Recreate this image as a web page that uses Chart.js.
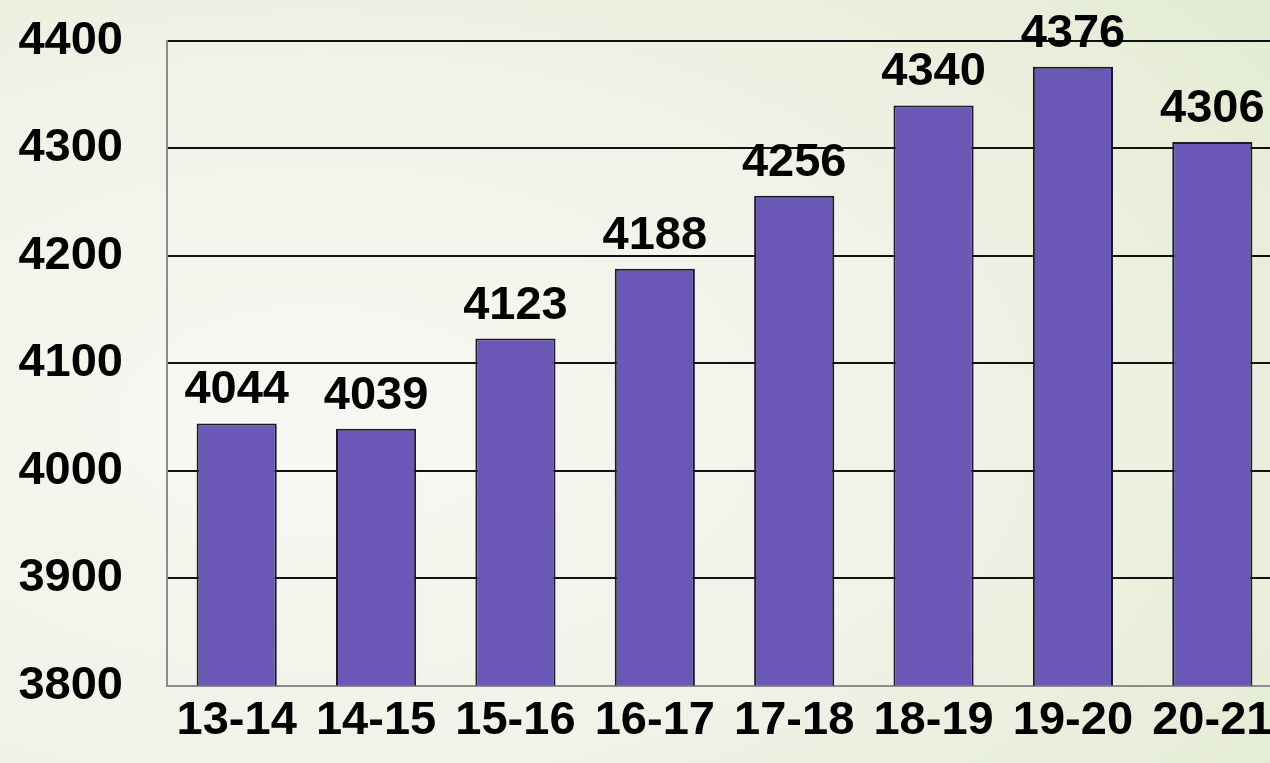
<!DOCTYPE html>
<html>
<head>
<meta charset="utf-8">
<script src="https://cdn.jsdelivr.net/npm/chart.js@4.4.1/dist/chart.umd.min.js"></script>
<style>
    html, body {
        margin: 0;
        padding: 0;
        width: 1270px;
        height: 763px;
        overflow: hidden;
    }
    body {
        background: radial-gradient(ellipse 95% 90% at 25% 55%, #f7f8f3 0%, #f0f3e8 50%, #e3ebd2 100%);
    }
    #wrap {
        position: absolute;
        left: 0;
        top: 0;
    }
</style>
</head>
<body>
<div id="wrap">
    <canvas id="yearChart" width="1282" height="763"></canvas>
</div>
<script>
const years = ['13-14', '14-15', '15-16', '16-17', '17-18', '18-19', '19-20', '20-21'];
const counts = [4044, 4039, 4123, 4188, 4256, 4340, 4376, 4306];
const yMin = 3800;
const yMax = 4400;
const yStep = 100;

const labelFont = {
    family: "'Liberation Sans', Arial, sans-serif",
    size: 47,
    weight: 'bold'
};

// value printed above each bar
const barValues = {
    id: 'barValues',
    afterDatasetsDraw(chart) {
        const ctx = chart.ctx;
        const meta = chart.getDatasetMeta(0);
        ctx.save();
        ctx.font = 'bold 47px "Liberation Sans", Arial, sans-serif';
        ctx.fillStyle = '#000';
        ctx.textAlign = 'center';
        ctx.textBaseline = 'alphabetic';
        meta.data.forEach(function(bar, i) {
            ctx.fillText(String(counts[i]), bar.x, bar.y - 20);
        });
        ctx.restore();
    }
};

const ctx = document.getElementById('yearChart').getContext('2d');

new Chart(ctx, {
    type: 'bar',
    data: {
        labels: years,
        datasets: [{
            data: counts,
            backgroundColor: '#6b57b5',
            borderColor: '#1a1a26',
            borderWidth: 2,
            borderSkipped: 'bottom',
            barPercentage: 0.575,
            categoryPercentage: 1.0
        }]
    },
    options: {
        responsive: false,
        animation: false,
        layout: {
            padding: { top: 41, right: 0, bottom: 7, left: 0 }
        },
        plugins: {
            legend: { display: false },
            tooltip: { enabled: false }
        },
        scales: {
            x: {
                grid: { display: false, drawTicks: false },
                border: { color: '#8c8c8c', width: 2 },
                ticks: {
                    color: '#000',
                    font: labelFont,
                    padding: 7,
                    maxRotation: 0,
                    autoSkip: false
                }
            },
            y: {
                min: yMin,
                max: yMax,
                grid: {
                    drawTicks: true,
                    tickLength: 44,
                    tickColor: 'rgba(0,0,0,0)',
                    lineWidth: 2,
                    color: function(context) {
                        return context.tick && context.tick.value === yMin ? '#8c8c8c' : '#111';
                    }
                },
                border: { color: '#8c8c8c', width: 2 },
                ticks: {
                    stepSize: yStep,
                    color: '#000',
                    font: labelFont,
                    padding: 0,
                    callback: function(value) {
                        return String(value);
                    }
                },
                afterFit: function(scale) {
                    scale.width = 167;
                }
            }
        }
    },
    plugins: [barValues]
});
</script>
</body>
</html>
